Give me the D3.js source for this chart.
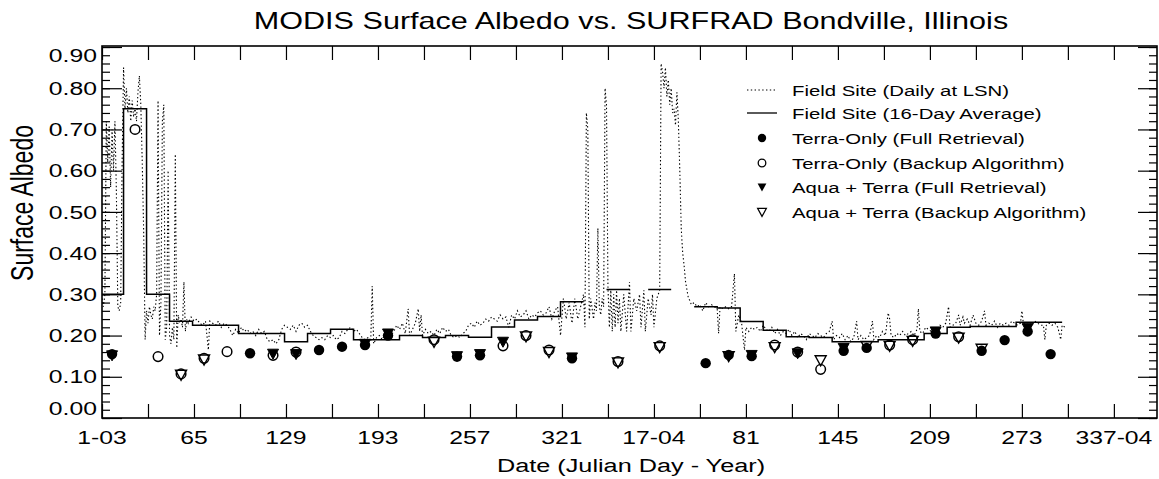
<!DOCTYPE html>
<html><head><meta charset="utf-8">
<script src="https://cdn.jsdelivr.net/npm/d3@7"></script>
<style>
body{margin:0;background:#fff}
svg{display:block}
text{font-family:"Liberation Sans",Arial,Helvetica,sans-serif;fill:#000}
</style>
</head><body>
<svg id="chart" width="1159" height="479"></svg>
<script>
// ---------- DATA ----------
// day number = days since 1 Jan 2003 (0-based); 16-day period centres
const periodDay = [7,23,39,55,71,87,103,119,135,151,167,183,199,215,231,247,263,279,295,311,327,343,359,
                   372,388,404,420,436,452,468,484,500,516,532,548,564,580,596,612,628,644,660];
// Field site 16-day average (null = no value)
const avg16 = [0.30,0.75,0.30,0.235,0.225,0.225,0.205,0.205,0.185,0.205,0.215,0.19,0.19,0.20,0.195,0.20,0.196,0.221,0.238,0.246,0.282,null,0.312,
               null,0.312,null,0.27,0.267,0.234,0.213,0.197,0.195,0.185,0.185,0.19,0.19,0.205,0.22,0.222,0.222,0.232,0.232];

// MODIS retrievals: period index + albedo
const terraFullPeriod  = [0,6,9,10,11,12,15,16,20,26,27,28,32,33,36,38,39,40,41];
const terraFullAlbedo  = [0.155,0.157,0.165,0.173,0.177,0.20,0.149,0.152,0.145,0.133,0.153,0.15,0.163,0.17,0.205,0.163,0.189,0.21,0.155];
const terraBackPeriod  = [1,2,3,4,5,7,8,14,17,18,19,22,24,29,30,31,34,35,37];
const terraBackAlbedo  = [0.70,0.149,0.107,0.145,0.161,0.152,0.16,0.19,0.175,0.20,0.165,0.137,0.175,0.177,0.16,0.118,0.177,0.19,0.197];
const aquaFullPeriod   = [0,7,8,11,12,15,16,17,20,28,30,32,36,40];
const aquaFullAlbedo   = [0.152,0.156,0.155,0.18,0.205,0.15,0.155,0.185,0.147,0.153,0.157,0.17,0.21,0.218];
const aquaBackPeriod   = [3,4,14,18,19,22,24,27,29,31,33,34,35,37,38];
const aquaBackAlbedo   = [0.105,0.142,0.185,0.198,0.16,0.135,0.172,0.15,0.172,0.14,0.175,0.175,0.187,0.195,0.168];

// Field site daily at local solar noon: [day number, albedo]
const dailyField = [
[0,0.29],[1,0.27],[2,0.30],[3,0.72],[4,0.62],[5,0.71],[6,0.56],[7,0.70],[8,0.60],[9,0.72],[10,0.55],[11,0.27],[12,0.26],[13,0.28],
[14,0.62],[15,0.85],[16,0.75],[17,0.80],[18,0.74],[19,0.78],[20,0.72],[21,0.77],[22,0.73],[23,0.75],[24,0.72],[25,0.79],[26,0.83],
[27,0.76],[28,0.62],[29,0.45],[30,0.19],[31,0.26],[32,0.23],[33,0.27],[34,0.25],[35,0.24],[36,0.27],[37,0.26],[38,0.30],[39,0.77],
[40,0.20],[41,0.28],[42,0.72],[43,0.76],[44,0.19],[45,0.22],[46,0.60],[47,0.20],[48,0.18],[49,0.22],[50,0.19],[51,0.64],[52,0.17],
[53,0.25],[54,0.23],[55,0.24],[56,0.22],[57,0.33],[58,0.21],[59,0.24],[60,0.23],[62,0.245],[64,0.235],[66,0.24],[68,0.23],[70,0.225],
[72,0.235],[74,0.165],[75,0.235],[77,0.23],[79,0.225],[81,0.235],[83,0.22],[85,0.23],[87,0.225],[89,0.215],[91,0.20],[93,0.215],
[95,0.205],[97,0.22],[99,0.21],[101,0.215],[103,0.205],[105,0.21],[107,0.20],[109,0.215],[111,0.205],[113,0.21],[115,0.19],[117,0.185],
[119,0.19],[121,0.18],[123,0.19],[125,0.215],[127,0.225],[129,0.22],[131,0.215],[133,0.225],[135,0.21],[137,0.225],[139,0.23],[141,0.22],
[143,0.225],[145,0.21],[147,0.20],[149,0.195],[151,0.19],[153,0.195],[155,0.19],[157,0.20],[159,0.195],[161,0.20],[163,0.19],[165,0.195],
[167,0.21],[169,0.205],[171,0.215],[173,0.22],[175,0.21],[177,0.215],[179,0.205],[181,0.195],[183,0.19],[185,0.195],[187,0.19],
[188,0.32],[189,0.18],[191,0.195],[193,0.20],[195,0.19],[197,0.205],[199,0.215],[201,0.20],[203,0.21],[205,0.225],[207,0.215],[209,0.23],
[211,0.205],[213,0.265],[214,0.20],[216,0.215],[218,0.23],[220,0.265],[221,0.21],[222,0.25],[223,0.20],[225,0.215],[227,0.205],[229,0.21],
[231,0.20],[233,0.215],[235,0.205],[237,0.22],[239,0.21],[241,0.215],[243,0.20],[245,0.195],[247,0.20],[249,0.195],[251,0.205],[253,0.21],
[255,0.225],[257,0.23],[259,0.22],[261,0.235],[263,0.225],[265,0.23],[267,0.24],[269,0.235],[271,0.245],[273,0.24],[275,0.235],[277,0.25],
[279,0.24],[281,0.245],[283,0.22],[285,0.25],[287,0.24],[289,0.26],[291,0.245],[293,0.25],[295,0.26],[297,0.24],[299,0.25],[301,0.245],
[303,0.255],[305,0.26],[307,0.25],[309,0.255],[311,0.27],[313,0.24],[315,0.26],[317,0.27],[319,0.20],[321,0.29],[323,0.24],[325,0.28],
[327,0.23],[329,0.29],[331,0.24],[333,0.27],[335,0.30],[336,0.22],[337,0.74],[338,0.70],[339,0.24],[340,0.29],[342,0.24],[343,0.28],
[344,0.26],[345,0.46],[346,0.27],[347,0.25],[348,0.29],[349,0.27],[350,0.80],[351,0.76],[352,0.32],[353,0.22],[354,0.31],[355,0.21],
[356,0.30],[357,0.22],[358,0.31],[359,0.23],[360,0.29],[361,0.21],[363,0.30],[365,0.21],[367,0.33],[368,0.21],[370,0.29],[372,0.26],
[374,0.30],[375,0.22],[377,0.31],[378,0.21],[380,0.29],[382,0.25],[383,0.30],[384,0.22],[386,0.29],[388,0.31],[389,0.86],[390,0.84],
[391,0.80],[392,0.85],[393,0.78],[394,0.82],[395,0.76],[396,0.80],[397,0.74],[398,0.75],[399,0.71],[400,0.79],[401,0.72],[402,0.60],
[403,0.46],[404,0.40],[405,0.37],[406,0.33],[407,0.31],[408,0.29],[409,0.285],[410,0.275],[412,0.28],[414,0.27],[416,0.275],[418,0.26],
[420,0.28],[422,0.27],[424,0.275],[426,0.27],[428,0.265],[429,0.205],[430,0.27],[432,0.265],[434,0.27],[436,0.265],[438,0.27],[440,0.35],
[441,0.21],[443,0.25],[445,0.23],[447,0.165],[448,0.22],[450,0.21],[452,0.22],[454,0.215],[456,0.22],[458,0.21],[460,0.225],[462,0.215],
[464,0.21],[466,0.22],[468,0.205],[470,0.215],[472,0.20],[474,0.21],[476,0.205],[478,0.215],[480,0.20],[482,0.21],[484,0.195],[486,0.205],
[488,0.20],[490,0.19],[492,0.205],[494,0.20],[496,0.195],[498,0.205],[500,0.20],[502,0.195],[504,0.205],[506,0.21],[508,0.235],[509,0.19],
[511,0.20],[513,0.195],[515,0.205],[517,0.19],[519,0.20],[521,0.185],[523,0.195],[525,0.235],[526,0.19],[528,0.20],[530,0.19],[532,0.195],
[534,0.20],[536,0.235],[537,0.19],[539,0.20],[541,0.195],[543,0.21],[545,0.20],[547,0.255],[548,0.24],[549,0.20],[551,0.195],[553,0.205],
[555,0.20],[557,0.21],[559,0.20],[561,0.205],[563,0.21],[565,0.20],[567,0.215],[568,0.265],[569,0.21],[571,0.205],[573,0.22],[575,0.215],
[577,0.21],[579,0.22],[581,0.215],[583,0.225],[585,0.22],[587,0.23],[589,0.27],[590,0.22],[592,0.225],[594,0.23],[596,0.25],[597,0.225],
[599,0.245],[600,0.23],[602,0.24],[604,0.225],[606,0.25],[608,0.23],[610,0.225],[612,0.235],[614,0.26],[615,0.225],[617,0.23],[619,0.225],
[621,0.235],[623,0.22],[625,0.23],[627,0.225],[629,0.23],[631,0.225],[633,0.235],[635,0.23],[637,0.225],[639,0.23],[640,0.26],[641,0.23],
[643,0.225],[645,0.23],[647,0.225],[649,0.235],[651,0.23],[653,0.225],[655,0.225],[656,0.19],[657,0.225],[659,0.23],[661,0.225],[663,0.23],
[665,0.22],[667,0.19],[668,0.225],[670,0.22]
];

const xTickDays   = [0,32,64,96,128,160,192,224,256,288,320,352,384,416,448,480,512,544,576,608,640,672,704];
const xTickLabels = ["1-03","","65","","129","","193","","257","","321","","17-04","","81","","145","","209","","273","","337-04"];
const yMajorTicks = [0,0.1,0.2,0.3,0.4,0.5,0.6,0.7,0.8,0.9];
const yTickLabels = ["0.00","0.10","0.20","0.30","0.40","0.50","0.60","0.70","0.80","0.90"];
const legendLabels = ["Field Site (Daily at LSN)","Field Site (16-Day Average)","Terra-Only (Full Retrieval)",
                      "Terra-Only (Backup Algorithm)","Aqua + Terra (Full Retrieval)","Aqua + Terra (Backup Algorithm)"];
const titleText = "MODIS Surface Albedo vs. SURFRAD Bondville, Illinois";
const xTitle = "Date (Julian Day - Year)";
const yTitle = "Surface Albedo";

// ---------- LAYOUT ----------
const L = 102, R = 1157, T = 46, B = 418;
const SX = 1.33; // horizontal stretch of the lettering
const svg = d3.select("#chart");
const x = d3.scaleLinear().domain([0, 734]).range([L, R]);
const y = d3.scaleLinear().domain([0, 0.9]).range([B, 47]);

function stext(g, px, py, str, size, anchor) {
  return g.append("text").attr("transform", `translate(${px},${py}) scale(${SX},1)`)
    .attr("text-anchor", anchor).attr("font-size", size).text(str);
}

svg.append("defs").append("clipPath").attr("id","plotclip")
  .append("rect").attr("x",L).attr("y",T).attr("width",R-L).attr("height",B-T);

// ---------- AXES ----------
const axG = svg.append("g").attr("stroke","#000").attr("fill","none");
const minorY = d3.range(0, 0.901, 0.02);
// bottom & top ticks
axG.append("g").attr("transform",`translate(0,${B})`)
  .call(d3.axisBottom(x).tickValues(xTickDays).tickSize(-14).tickSizeOuter(0).tickFormat(""));
axG.append("g").attr("transform",`translate(0,${T})`)
  .call(d3.axisTop(x).tickValues(xTickDays).tickSize(-14).tickSizeOuter(0).tickFormat(""));
// left ticks
axG.append("g").attr("transform",`translate(${L},0)`)
  .call(d3.axisLeft(y).tickValues(minorY).tickSize(-8).tickSizeOuter(0).tickFormat(""));
axG.append("g").attr("transform",`translate(${L},0)`)
  .call(d3.axisLeft(y).tickValues(yMajorTicks).tickSize(-20).tickSizeOuter(0).tickFormat(""));
// right ticks
axG.append("g").attr("transform",`translate(${R},0)`)
  .call(d3.axisRight(y).tickValues(minorY).tickSize(-8).tickSizeOuter(0).tickFormat(""));
axG.append("g").attr("transform",`translate(${R},0)`)
  .call(d3.axisRight(y).tickValues(yMajorTicks).tickSize(-19).tickSizeOuter(0).tickFormat(""));
axG.selectAll(".domain").remove();
axG.selectAll("line").attr("stroke","#000").attr("stroke-width",1.2);
// frame
svg.append("rect").attr("x",L).attr("y",T).attr("width",R-L).attr("height",B-T)
  .attr("fill","none").attr("stroke","#000").attr("stroke-width",1.6);

// tick labels
const labG = svg.append("g");
yMajorTicks.forEach((v,i) => {
  const cy = Math.min(408, Math.max(55, y(v)));
  stext(labG, 97, cy + 6.7, yTickLabels[i], 18.6, "end");
});
xTickDays.forEach((d,i) => {
  if (xTickLabels[i]) stext(labG, x(d), 444, xTickLabels[i], 18.6, "middle");
});
// titles
stext(svg, 631, 29, titleText, 23, "middle");
stext(svg, 631, 472, xTitle, 19, "middle");
svg.append("text").attr("transform",`translate(33,203) rotate(-90) scale(1,${SX})`)
  .attr("text-anchor","middle").attr("font-size",23).text(yTitle);

// ---------- DATA MARKS ----------
const plot = svg.append("g").attr("clip-path","url(#plotclip)");

// daily dotted line
plot.append("path").datum(dailyField)
  .attr("d", d3.line().x(d => x(d[0])).y(d => y(d[1])))
  .attr("fill","none").attr("stroke","#000").attr("stroke-width",1.1)
  .attr("stroke-dasharray","1.4,2.4");

// 16-day average histogram-style step line
const stepPts = [];
periodDay.forEach((c,i) => {
  if (avg16[i] == null) { stepPts.push(null); return; }
  stepPts.push([c-8, avg16[i]], [c+8, avg16[i]]);
});
plot.append("path").datum(stepPts)
  .attr("d", d3.line().defined(d => d != null).x(d => x(d[0])).y(d => y(d[1])))
  .attr("fill","none").attr("stroke","#000").attr("stroke-width",1.5);

// markers
const triPath = "M-5.5,-4.5L5.5,-4.5L0,5.5Z";
function pts(per, alb) { return per.map((p,i) => [periodDay[p], alb[i]]); }
const mk = plot.append("g");
mk.selectAll(".ab").data(pts(aquaBackPeriod, aquaBackAlbedo)).join("path")
  .attr("transform", d => `translate(${x(d[0])},${y(d[1])})`).attr("d", triPath)
  .attr("fill","none").attr("stroke","#000").attr("stroke-width",1.4);
mk.selectAll(".af").data(pts(aquaFullPeriod, aquaFullAlbedo)).join("path")
  .attr("transform", d => `translate(${x(d[0])},${y(d[1])})`).attr("d", triPath)
  .attr("fill","#000").attr("stroke","#000").attr("stroke-width",1);
mk.selectAll(".tb").data(pts(terraBackPeriod, terraBackAlbedo)).join("circle")
  .attr("cx", d => x(d[0])).attr("cy", d => y(d[1])).attr("r",4.8)
  .attr("fill","none").attr("stroke","#000").attr("stroke-width",1.5);
mk.selectAll(".tf").data(pts(terraFullPeriod, terraFullAlbedo)).join("circle")
  .attr("cx", d => x(d[0])).attr("cy", d => y(d[1])).attr("r",5.2)
  .attr("fill","#000");

// ---------- LEGEND ----------
const lg = svg.append("g");
const rowY = [90,113,138,163,187,212];
lg.append("line").attr("x1",747).attr("x2",777).attr("y1",rowY[0]).attr("y2",rowY[0])
  .attr("stroke","#000").attr("stroke-width",1.1).attr("stroke-dasharray","1.4,2.4");
lg.append("line").attr("x1",747).attr("x2",777).attr("y1",rowY[1]).attr("y2",rowY[1])
  .attr("stroke","#000").attr("stroke-width",1.3);
lg.append("circle").attr("cx",762).attr("cy",rowY[2]).attr("r",4.2).attr("fill","#000");
lg.append("circle").attr("cx",762).attr("cy",rowY[3]).attr("r",3.8).attr("fill","none").attr("stroke","#000").attr("stroke-width",1.3);
lg.append("path").attr("transform",`translate(762,${rowY[4]}) scale(0.8)`).attr("d",triPath).attr("fill","#000");
lg.append("path").attr("transform",`translate(762,${rowY[5]}) scale(0.8)`).attr("d",triPath).attr("fill","none").attr("stroke","#000").attr("stroke-width",1.5);
legendLabels.forEach((t,i) => stext(lg, 792, rowY[i] + 5.5, t, 15.3, "start"));
</script>
</body></html>
